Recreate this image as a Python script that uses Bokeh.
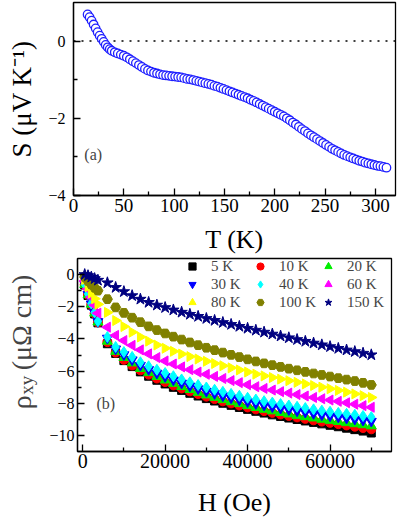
import math
from bokeh.plotting import figure
from bokeh.layouts import column, row
from bokeh.models import Range1d, FixedTicker, Span, Label, Legend, LegendItem
from bokeh.embed import file_html
from bokeh.resources import INLINE

FONT = "Liberation Serif"

# ---------------- panel (a): thermopower ----------------
T_K = [14, 16, 18, 20, 22, 24, 26, 28, 30, 32, 34, 36, 38,
       41, 44, 47, 50, 53, 56, 59, 62, 65, 68, 71, 74, 77, 80, 83, 86, 89, 92, 95, 98,
       101, 104, 107, 110, 113, 116, 119, 122, 125, 128, 131, 134, 137, 140, 143, 146, 149,
       152, 155, 158, 161, 164, 167, 170, 173, 176, 179, 182, 185, 188, 191, 194, 197, 200,
       203, 206, 209, 212, 215, 218, 221, 224, 227, 230, 233, 236, 239, 242, 245, 248, 251,
       254, 257, 260, 263, 266, 269, 272, 275, 278, 281, 284, 287, 290, 293, 296, 299, 302,
       305, 308, 311]
S_uV = [0.69, 0.62, 0.53, 0.43, 0.33, 0.23, 0.14, 0.06, -0.02, -0.10, -0.16, -0.21, -0.25,
        -0.29, -0.32, -0.35, -0.38, -0.42, -0.47, -0.52, -0.57, -0.62, -0.67, -0.72, -0.76,
        -0.79, -0.82, -0.84, -0.86, -0.88, -0.89, -0.90, -0.91, -0.92, -0.93, -0.94, -0.96,
        -0.98, -0.99, -1.01, -1.03, -1.05, -1.07, -1.09, -1.11, -1.13, -1.16, -1.18, -1.21,
        -1.24, -1.27, -1.30, -1.33, -1.36, -1.39, -1.42, -1.45, -1.48, -1.52, -1.55, -1.59,
        -1.63, -1.67, -1.71, -1.75, -1.79, -1.83, -1.87, -1.91, -1.95, -2.00, -2.05, -2.11,
        -2.16, -2.22, -2.28, -2.33, -2.39, -2.44, -2.49, -2.54, -2.59, -2.64, -2.69, -2.74,
        -2.79, -2.83, -2.87, -2.91, -2.95, -2.98, -3.01, -3.04, -3.07, -3.10, -3.12, -3.15,
        -3.17, -3.19, -3.21, -3.23, -3.24, -3.26, -3.28]

# ---------------- panel (b): Hall resistivity ----------------
H_Oe = [500, 1300, 2100, 2900, 3700, 6000, 8000, 10000, 12000, 14000, 16000, 18000,
        20000, 22000, 24000, 26000, 28000, 30000, 32000, 34000, 36000, 38000, 40000,
        42000, 44000, 46000, 48000, 50000, 52000, 54000, 56000, 58000, 60000, 62000,
        64000, 66000, 68000, 70000]

rho_5K = [-0.65, -1.30, -1.90, -2.45, -3.00, -4.30, -4.90, -5.35, -5.72, -6.05, -6.32, -6.57,
          -6.80, -7.01, -7.20, -7.38, -7.55, -7.71, -7.86, -8.00, -8.13, -8.26, -8.38, -8.50,
          -8.61, -8.72, -8.82, -8.92, -9.01, -9.10, -9.19, -9.28, -9.37, -9.46, -9.55, -9.64,
          -9.73, -9.85]
rho_10K = [-0.63, -1.27, -1.87, -2.42, -2.97, -4.20, -4.85, -5.30, -5.65, -5.95, -6.22, -6.46,
           -6.68, -6.89, -7.08, -7.26, -7.43, -7.59, -7.74, -7.88, -8.01, -8.14, -8.26, -8.38,
           -8.49, -8.60, -8.70, -8.79, -8.88, -8.97, -9.06, -9.14, -9.22, -9.30, -9.38, -9.46,
           -9.54, -9.62]
rho_20K = [-0.62, -1.25, -1.85, -2.40, -2.95, -4.15, -4.78, -5.16, -5.50, -5.84, -6.10, -6.34,
           -6.56, -6.77, -6.97, -7.15, -7.33, -7.49, -7.64, -7.78, -7.91, -8.03, -8.15, -8.27,
           -8.38, -8.48, -8.58, -8.67, -8.76, -8.84, -8.92, -9.00, -9.07, -9.14, -9.21, -9.28,
           -9.34, -9.41]
rho_30K = [-0.60, -1.22, -1.82, -2.37, -2.92, -3.95, -4.62, -4.98, -5.30, -5.64, -5.90, -6.13,
           -6.34, -6.55, -6.75, -6.93, -7.10, -7.26, -7.40, -7.54, -7.67, -7.79, -7.91, -8.02,
           -8.12, -8.22, -8.31, -8.40, -8.48, -8.56, -8.64, -8.72, -8.79, -8.86, -8.93, -8.99,
           -9.05, -9.12]
rho_40K = [-0.60, -1.20, -1.80, -2.35, -2.90, -3.88, -4.50, -4.82, -5.12, -5.45, -5.70, -5.92,
           -6.12, -6.32, -6.52, -6.70, -6.87, -7.02, -7.16, -7.29, -7.42, -7.54, -7.66, -7.77,
           -7.87, -7.96, -8.05, -8.14, -8.22, -8.30, -8.38, -8.46, -8.53, -8.60, -8.66, -8.72,
           -8.79, -8.86]
rho_60K = [-0.40, -0.90, -1.40, -1.90, -2.40, -3.27, -3.78, -4.10, -4.40, -4.68, -4.93, -5.16,
           -5.37, -5.56, -5.74, -5.91, -6.06, -6.20, -6.33, -6.46, -6.59, -6.72, -6.85, -6.97,
           -7.08, -7.18, -7.28, -7.37, -7.46, -7.55, -7.64, -7.72, -7.80, -7.88, -7.97, -8.06,
           -8.15, -8.25]
rho_80K = [-0.30, -0.75, -1.15, -1.50, -1.85, -2.35, -2.86, -3.23, -3.58, -3.88, -4.14, -4.38,
           -4.58, -4.77, -4.94, -5.10, -5.25, -5.39, -5.53, -5.67, -5.80, -5.93, -6.06, -6.19,
           -6.30, -6.40, -6.50, -6.60, -6.70, -6.80, -6.90, -7.00, -7.10, -7.20, -7.31, -7.42,
           -7.53, -7.64]
rho_100K = [-0.15, -0.40, -0.62, -0.82, -1.00, -1.53, -2.04, -2.38, -2.68, -2.96, -3.22, -3.45,
            -3.66, -3.86, -4.04, -4.22, -4.39, -4.55, -4.70, -4.85, -4.99, -5.13, -5.27, -5.40,
            -5.52, -5.63, -5.74, -5.85, -5.95, -6.05, -6.15, -6.24, -6.34, -6.44, -6.53, -6.62,
            -6.73, -6.86]
rho_150K = [0.00, -0.07, -0.16, -0.25, -0.35, -0.51, -0.80, -1.06, -1.31, -1.53, -1.73, -1.90,
            -2.05, -2.20, -2.34, -2.47, -2.60, -2.73, -2.85, -2.98, -3.10, -3.22, -3.34, -3.46,
            -3.58, -3.70, -3.82, -3.93, -4.04, -4.15, -4.26, -4.37, -4.48, -4.59, -4.69, -4.79,
            -4.89, -4.99]

series_labels = ["5 K", "10 K", "20 K", "30 K", "40 K", "60 K", "80 K", "100 K", "150 K"]
series_values = [rho_5K, rho_10K, rho_20K, rho_30K, rho_40K, rho_60K, rho_80K, rho_100K, rho_150K]
series_colors = ["#000000", "#ff0000", "#00ee00", "#0000ff", "#00ffff", "#ff00ff",
                 "#ffff00", "#808000", "#000080"]
series_markers = ["square", "circle", "triangle", "inverted_triangle", "diamond", "triangle",
                  "triangle", "hex", "star"]
series_angles = [0, 0, 0, 0, 0, math.pi / 2, -math.pi / 2, 0, 0]
series_sizes = [8, 9, 10, 10, 11, 10, 10, 10, 12]

T_ticks = [0, 50, 100, 150, 200, 250, 300]
T_minor = [25, 75, 125, 175, 225, 275]
S_ticks = [-4, -2, 0]
S_minor = [-3, -1]
H_ticks = [0, 20000, 40000, 60000]
H_minor = [10000, 30000, 50000, 70000]
R_ticks = [-10, -8, -6, -4, -2, 0]
R_minor = [-9, -7, -5, -3, -1]


def style(p, xt, xm, yt, ym, xfs, yfs):
    p.xgrid.visible = False
    p.ygrid.visible = False
    p.outline_line_color = "black"
    p.outline_line_width = 1.3
    p.outline_line_alpha = 1.0
    p.xaxis.ticker = FixedTicker(ticks=xt, minor_ticks=xm)
    p.yaxis.ticker = FixedTicker(ticks=yt, minor_ticks=ym)
    for ax in (p.xaxis[0], p.yaxis[0]):
        ax.major_tick_in = 7
        ax.major_tick_out = 0
        ax.minor_tick_in = 4
        ax.minor_tick_out = 0
        ax.axis_line_width = 1.3
        ax.major_tick_line_width = 1.3
        ax.minor_tick_line_width = 1.3
        ax.major_label_text_font = FONT
        ax.major_label_text_color = "black"
        ax.axis_label_text_font = FONT
        ax.axis_label_text_font_style = "normal"
        ax.axis_label_text_color = "black"
    p.xaxis.major_label_text_font_size = xfs
    p.yaxis.major_label_text_font_size = yfs


# ---------------- figure (a) ----------------
p1 = figure(width=399, height=256, x_range=Range1d(0, 320), y_range=Range1d(-4, 1),
            output_backend="svg", toolbar_location=None,
            min_border_left=73, min_border_right=4, min_border_top=2, min_border_bottom=59)
style(p1, T_ticks, T_minor, S_ticks, S_minor, "19px", "16px")
p1.yaxis.major_label_standoff = 8
p1.xaxis.major_label_standoff = 3
zero = Span(location=0, dimension="width", line_color="black", line_width=1.5,
            line_dash="2 6", level="underlay")
p1.add_layout(zero)
p1.scatter(T_K, S_uV, marker="circle", size=8.5, line_color="#1f1fff", line_width=1.3,
           fill_color="white")
p1.xaxis.axis_label = "T (K)"
p1.yaxis.axis_label = "S (μV K⁻¹)"
p1.xaxis.axis_label_text_font_size = "26px"
p1.yaxis.axis_label_text_font_size = "27px"
p1.xaxis.axis_label_standoff = 10
p1.yaxis.axis_label_standoff = 8
p1.add_layout(Label(x=10.8, y=-2.94, text="(a)", text_font=FONT, text_font_size="16px",
                    text_baseline="middle", text_align="left"))

# ---------------- figure (b) ----------------
yr2 = Range1d(-11, 1)
p2 = figure(width=353, height=263, x_range=Range1d(-1250, 74900), y_range=yr2,
            output_backend="svg", toolbar_location=None,
            min_border_left=25, min_border_right=8, min_border_top=2, min_border_bottom=65)
style(p2, H_ticks, H_minor, R_ticks, R_minor, "20px", "16px")
p2.yaxis.major_label_standoff = 3
p2.xaxis.major_label_standoff = 2
p2.xaxis.axis_label = "H (Oe)"
p2.xaxis.axis_label_text_font_size = "26px"
p2.xaxis.axis_label_standoff = 17

items = []
for lab_txt, vals, col, mk, ang, sz in zip(series_labels, series_values, series_colors,
                                            series_markers, series_angles, series_sizes):
    r = p2.scatter(H_Oe, vals, marker=mk, size=sz, angle=ang, fill_color=col,
                   line_color=col, line_width=1)
    items.append(LegendItem(label=lab_txt, renderers=[r]))

legend = Legend(items=items, orientation="horizontal", ncols=3, location=(106, 140),
                label_text_font=FONT, label_text_font_size="15px", glyph_width=18,
                glyph_height=18, label_standoff=10, label_width=40, label_height=18,
                spacing=0, padding=0, margin=0, border_line_color=None,
                background_fill_alpha=0)
p2.add_layout(legend)
p2.add_layout(Label(x=3330, y=-7.99, text="(b)", text_font=FONT, text_font_size="16px",
                    text_baseline="middle", text_align="left"))

# narrow strip (no axes at all) holding the rotated y-axis title of panel (b)
lab = figure(width=46, height=263, x_range=Range1d(0, 1), y_range=yr2,
             output_backend="svg", toolbar_location=None,
             x_axis_location=None, y_axis_location=None,
             min_border_left=0, min_border_right=0, min_border_top=2, min_border_bottom=65)
lab.xgrid.visible = False
lab.ygrid.visible = False
lab.outline_line_color = None
lab.add_layout(Label(x=0.46, y=-8.37, text="ρ", text_font=FONT, text_font_size="28px",
                     angle=math.pi / 2, text_align="left", text_baseline="middle"))
lab.add_layout(Label(x=0.56, y=-7.47, text="xy", text_font=FONT, text_font_size="19px",
                     angle=math.pi / 2, text_align="left", text_baseline="middle"))
lab.add_layout(Label(x=0.46, y=-5.95, text="(μΩ cm)", text_font=FONT, text_font_size="28px",
                     angle=math.pi / 2, text_align="left", text_baseline="middle"))

layout = column(p1, row(lab, p2, spacing=0), spacing=0)
open("out.html", "w").write(file_html(layout, INLINE))
